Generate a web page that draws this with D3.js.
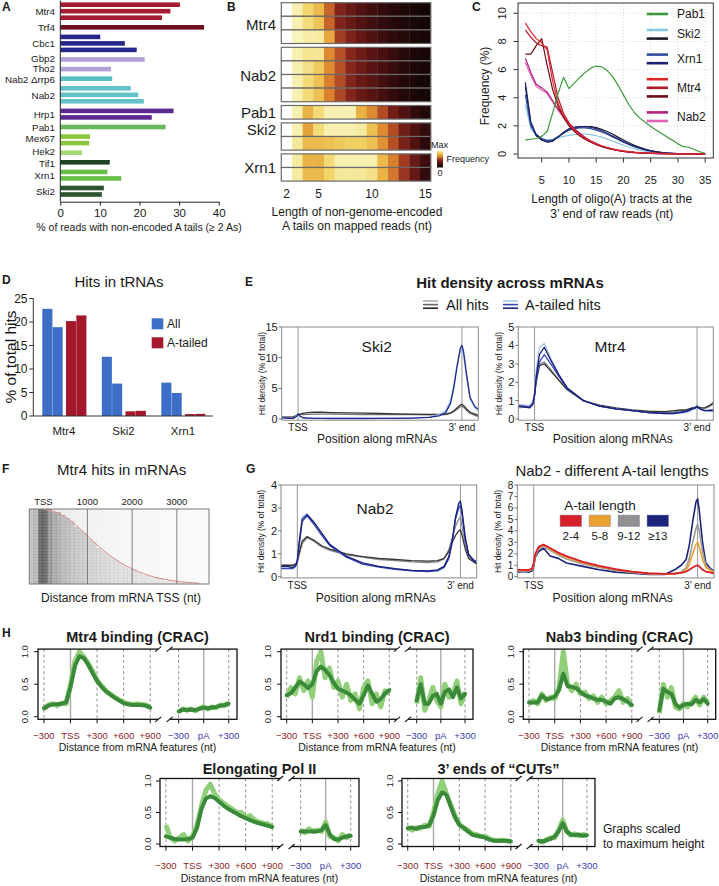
<!DOCTYPE html>
<html><head><meta charset="utf-8">
<script src="https://cdn.jsdelivr.net/npm/d3@7/dist/d3.min.js"></script>
<style>
html,body{margin:0;padding:0;background:#fff;}
svg{display:block;}
text{font-family:"Liberation Sans",Arial,Helvetica,sans-serif;fill:#1a1a1a;}
</style></head><body>
<svg id="fig" width="719" height="886" viewBox="0 0 719 886"></svg>
<script>
// ================= DATA =================
// Panel A
const aCategories = ["Mtr4","Trf4","Cbc1","Gbp2","Tho2","Nab2 \u0394rrp6","Nab2","Hrp1","Pab1","Mex67","Hek2","Tif1","Xrn1","Ski2"];
const aValues = [[30.2,27.8,25.7],[36.3],[10.1,16.3,19.3],[21.3],[12.8],[13.1],[17.8,19.7,21.1],[28.6,23.1],[26.6],[7.5,7.3],[5.5],[12.5],[11.9,15.4],[11.0,10.5]];
const aColors = ["#a51c30","#6d0f1c","#25288a","#b4a0d8","#b4a0d8","#58bcc4","#66c2ca","#5a2a90","#6ab85e","#8cc63c","#a6d677","#1f4423","#6abf4b","#2b5530"];
const aTicks = [0,10,20,30,40];

// Panel B (relative frequency, 1 = max)
const bLengths = [2,3,4,5,6,7,8,9,10,11,12,13,14,15];
const bTicks = [2,5,10,15];
const bGroups = ["Mtr4","Nab2","Pab1","Ski2","Xrn1"];
const bMtr4 = [[1,.88,.78,.7,.5,.34,.27,.21,.16,.12,.09,.06,.04,.02],[1,.88,.8,.73,.5,.34,.27,.21,.16,.12,.09,.06,.04,.02],[1,.9,.87,.86,.65,.42,.33,.26,.2,.15,.11,.08,.05,.03]];
const bNab2 = [[1,.88,.84,.84,.58,.46,.36,.29,.23,.18,.13,.09,.05,.03],[1,.88,.82,.75,.58,.46,.36,.29,.23,.18,.13,.09,.05,.03],[1,.88,.8,.72,.56,.45,.35,.28,.22,.17,.12,.08,.05,.03],[1,.88,.8,.72,.56,.44,.35,.28,.22,.17,.12,.08,.05,.03]];
const bPab1 = [[1,.88,.68,.8,.88,.88,.88,.68,.58,.45,.3,.2,.12,.08]];
const bSki2 = [[1,.88,.64,.8,.88,.88,.88,.86,.72,.58,.45,.3,.2,.12],[1,.85,.7,.7,.72,.74,.76,.76,.72,.6,.46,.32,.2,.1]];
const bXrn1 = [[1,.86,.68,.68,.8,.88,.88,.88,.88,.7,.56,.42,.28,.15],[1,.86,.7,.7,.78,.85,.85,.85,.82,.68,.54,.4,.26,.12]];

// Panel C (frequency %, oligo(A) length 2..35)
const cLengths = [2,3,4,5,6,7,8,9,10,11,12,13,14,15,16,17,18,19,20,21,22,23,24,25,26,27,28,29,30,31,32,33,34,35];
const cXTicks = [5,10,15,20,25,30,35];
const cYTicks = [0,2,4,6,8,10];
const cPab1 = [1.0,1.05,1.1,1.25,1.6,2.9,4.3,5.45,4.65,5.05,5.45,5.8,6.1,6.25,6.2,5.95,5.5,4.9,4.2,3.5,2.95,2.55,2.25,1.95,1.7,1.45,1.2,0.97,0.72,0.52,0.48,0.32,0.16,0.05];
const cSki2a = [3.5,1.8,1.3,1.1,1.0,1.05,1.15,1.25,1.32,1.38,1.42,1.42,1.38,1.3,1.2,1.06,0.92,0.77,0.62,0.48,0.37,0.28,0.2,0.14,0.1,0.07,0.05,0.03,0.02,0.01,0.01,0,0,0];
const cSki2b = [4.8,2.1,1.3,1.0,0.88,0.95,1.2,1.48,1.7,1.85,1.92,1.95,1.95,1.88,1.75,1.6,1.42,1.2,1.0,0.8,0.62,0.47,0.35,0.25,0.17,0.12,0.08,0.05,0.03,0.02,0.01,0.01,0,0];
const cXrn1a = [4.2,2.0,1.4,1.1,0.95,1.0,1.25,1.5,1.7,1.8,1.85,1.85,1.8,1.7,1.56,1.4,1.22,1.03,0.84,0.67,0.52,0.4,0.29,0.21,0.15,0.1,0.07,0.05,0.03,0.02,0.01,0.01,0,0];
const cXrn1b = [5.1,2.3,1.35,1.0,0.85,0.9,1.2,1.55,1.8,1.92,1.95,1.95,1.9,1.8,1.65,1.48,1.28,1.08,0.88,0.7,0.54,0.41,0.3,0.22,0.15,0.1,0.07,0.05,0.03,0.02,0.01,0.01,0,0];
const cMtr4a = [9.3,8.7,8.2,7.9,7.4,5.2,3.6,2.7,2.1,1.7,1.35,1.1,0.9,0.72,0.58,0.46,0.36,0.28,0.22,0.17,0.13,0.1,0.08,0.06,0.05,0.04,0.03,0.02,0.02,0.01,0.01,0.01,0.01,0];
const cMtr4b = [8.8,8.3,7.9,7.7,7.6,5.8,4.0,2.9,2.2,1.75,1.4,1.12,0.9,0.72,0.57,0.45,0.35,0.27,0.21,0.16,0.12,0.09,0.07,0.05,0.04,0.03,0.02,0.02,0.01,0.01,0.01,0,0,0];
const cMtr4c = [7.1,7.1,7.7,8.2,6.3,4.6,3.4,2.6,2.0,1.6,1.28,1.03,0.83,0.66,0.52,0.41,0.32,0.25,0.19,0.15,0.11,0.08,0.06,0.05,0.04,0.03,0.02,0.02,0.01,0.01,0.01,0,0,0];
const cNab2a = [6.8,5.8,4.95,4.7,4.4,3.8,3.2,2.7,2.2,1.8,1.48,1.18,0.94,0.74,0.57,0.44,0.33,0.25,0.19,0.14,0.1,0.08,0.06,0.04,0.03,0.02,0.02,0.01,0.01,0.01,0,0,0,0];
const cNab2b = [6.5,5.6,4.8,4.55,4.3,3.7,3.1,2.6,2.15,1.75,1.42,1.12,0.88,0.7,0.55,0.42,0.32,0.24,0.18,0.13,0.1,0.07,0.05,0.04,0.03,0.02,0.02,0.01,0.01,0.01,0,0,0,0];
const cLegendLabels = ["Pab1","Ski2","Xrn1","Mtr4","Nab2"];

// Panel D
const dCategories = ["Mtr4","Ski2","Xrn1"];
const dAll = [[22.8,18.9],[12.6,6.9],[7.1,4.9]];
const dTailed = [[20.2,21.4],[1.0,1.1],[0.4,0.45]];
const dTicks = [0,5,10,15,20,25];

// Panels E and G: position along mRNA (TSS = 0, 3' end = 100)
const posE = [-10,-6,-3,-1,0,1,3,6,10,15,20,30,40,50,60,70,80,86,90,93,95,97,99,100,101,103,105,108,110];
const eSki2All1 = [0.3,0.3,0.35,0.5,0.7,0.8,0.9,1.05,1.1,1.1,1.05,1.0,0.95,0.9,0.85,0.8,0.75,0.75,0.8,1.0,1.3,1.8,2.3,2.4,2.2,1.6,1.1,0.8,0.6];
const eSki2All2 = [0.25,0.25,0.3,0.6,0.8,0.75,0.7,0.75,0.8,0.8,0.78,0.75,0.72,0.7,0.7,0.7,0.68,0.68,0.7,0.9,1.2,1.6,2.0,2.1,1.9,1.4,0.9,0.6,0.4];
const eSki2Tail1 = [0.2,0.1,0.1,0.4,0.8,0.5,0.2,0.15,0.1,0.1,0.08,0.08,0.08,0.1,0.1,0.15,0.25,0.5,1.0,2.5,5.0,8.5,11.5,12.0,11.0,7.0,3.5,2.0,1.6];
const eSki2Tail2 = [0.2,0.1,0.12,0.5,0.8,0.5,0.2,0.15,0.1,0.1,0.09,0.09,0.1,0.1,0.12,0.18,0.3,0.7,1.3,3.0,5.5,8.8,11.0,11.5,10.5,6.5,3.2,1.8,1.4];
const eMtr4All1 = [0.7,0.7,0.72,0.9,1.3,2.0,2.9,3.0,2.6,2.1,1.6,1.0,0.75,0.6,0.5,0.42,0.4,0.45,0.5,0.48,0.55,0.6,0.65,0.7,0.65,0.6,0.62,0.75,0.9];
const eMtr4All2 = [0.6,0.65,0.7,0.9,1.4,2.2,3.0,3.1,2.7,2.1,1.6,1.0,0.7,0.55,0.45,0.38,0.36,0.4,0.45,0.5,0.5,0.55,0.6,0.62,0.6,0.55,0.58,0.7,0.8];
const eMtr4Tail1 = [0.7,0.65,0.6,0.8,1.3,2.3,3.5,3.9,3.2,2.4,1.7,1.0,0.7,0.55,0.45,0.35,0.3,0.3,0.35,0.4,0.45,0.55,0.6,0.65,0.6,0.5,0.45,0.45,0.45];
const eMtr4Tail2 = [0.8,0.75,0.7,0.9,1.5,2.6,3.9,4.1,3.3,2.4,1.7,1.0,0.7,0.55,0.45,0.35,0.3,0.3,0.32,0.35,0.4,0.5,0.55,0.6,0.55,0.5,0.45,0.4,0.4];
const eMtr4Tail3 = [0.7,0.7,0.65,0.85,1.3,2.1,3.1,3.5,3.0,2.3,1.65,1.0,0.7,0.55,0.45,0.35,0.32,0.33,0.38,0.42,0.48,0.55,0.62,0.7,0.6,0.5,0.45,0.5,0.5];
const gNab2All1 = [0.5,0.5,0.5,0.55,0.7,1.0,1.55,1.75,1.6,1.35,1.2,1.0,0.88,0.8,0.75,0.7,0.68,0.7,0.8,1.1,1.5,1.8,2.0,2.05,1.8,1.2,0.8,0.65,0.55];
const gNab2All2 = [0.45,0.45,0.48,0.5,0.6,0.9,1.45,1.7,1.55,1.3,1.15,0.95,0.85,0.75,0.7,0.65,0.62,0.65,0.78,1.2,1.7,2.2,2.5,2.6,2.2,1.4,0.9,0.7,0.6];
const gNab2Tail1 = [0.45,0.45,0.4,0.5,0.7,1.4,2.5,2.7,2.4,1.9,1.4,0.9,0.6,0.45,0.35,0.28,0.25,0.3,0.45,0.9,1.6,2.6,3.2,3.3,2.9,1.7,1.0,0.7,0.6];
const gNab2Tail2 = [0.35,0.35,0.35,0.45,0.65,1.3,2.4,2.65,2.3,1.8,1.35,0.85,0.55,0.42,0.32,0.25,0.22,0.25,0.4,0.8,1.5,2.5,3.0,3.1,2.7,1.6,0.95,0.75,0.65];
const gNab2Tail3 = [0.4,0.4,0.42,0.5,0.7,1.5,2.6,2.75,2.35,1.85,1.38,0.88,0.58,0.44,0.34,0.27,0.24,0.28,0.42,0.85,1.55,2.55,3.1,3.2,2.8,1.65,0.98,0.72,0.62];
const gTailLabels = ["2-4","5-8","9-12","\u226513"];
const gTail2to4 = [0.6,0.6,0.6,0.7,1.2,2.0,2.6,2.8,2.5,2.1,1.8,1.3,0.95,0.65,0.45,0.3,0.25,0.28,0.33,0.45,0.6,0.8,0.95,1.0,0.9,0.6,0.45,0.35,0.3];
const gTail5to8 = [0.55,0.55,0.55,0.65,1.1,1.9,2.55,2.75,2.45,2.0,1.7,1.2,0.9,0.6,0.42,0.28,0.23,0.27,0.35,0.6,1.1,2.0,2.8,3.0,2.6,1.5,0.8,0.5,0.4];
const gTail9to12 = [0.5,0.5,0.5,0.6,1.0,1.8,2.4,2.6,2.3,1.9,1.55,1.1,0.8,0.55,0.38,0.25,0.22,0.27,0.4,0.8,1.6,3.0,4.2,4.6,4.0,2.2,1.0,0.6,0.45];
const gTail13 = [0.4,0.45,0.4,0.5,0.9,1.7,2.2,2.5,1.8,1.6,1.2,0.9,0.6,0.4,0.3,0.2,0.2,0.6,1.0,1.5,2.8,4.8,6.5,6.8,5.8,3.0,1.2,0.7,0.5];

// Panel F
const fTickValues = [0,1000,2000,3000];
const fTickLabels = ["TSS","1000","2000","3000"];
const fDensity = [0.3,0.35,0.75,0.75,0.5,0.42,0.38,0.34,0.31,0.29,0.27,0.25,0.23,0.22,0.21,0.2,0.19,0.18,0.17,0.17,0.16,0.16,0.15,0.15,0.14,0.14,0.13,0.13,0.13,0.12,0.12,0.12,0.11,0.11,0.11,0.1,0.1,0.1,0.1,0.1];
const fCurveNt = [0,250,500,750,1000,1250,1500,1750,2000,2250,2500,2750,3000,3250,3500];
const fCurveFrac = [0,0.03,0.1,0.22,0.36,0.5,0.62,0.72,0.8,0.86,0.91,0.94,0.965,0.98,0.99];

// Panel H (scaled to max; -300..+900 around TSS, -300..+300 around pA, 50 nt steps)
const hPosTSS = [-300,-250,-200,-150,-100,-50,0,50,100,150,200,250,300,350,400,450,500,550,600,650,700,750,800,850,900];
const hPosPA = [-300,-250,-200,-150,-100,-50,0,50,100,150,200,250,300];
const hTicksTSS = [-300,0,300,600,900];
const hLabelsTSS = ["\u2212300","TSS","+300","+600","+900"];
const hTicksPA = [-300,0,300];
const hLabelsPA = ["\u2212300","pA","+300"];
const hMtr4Smooth = [.13,.17,.19,.19,.2,.22,.45,.78,.93,.9,.8,.67,.55,.46,.39,.34,.29,.25,.21,.19,.18,.18,.18,.17,.14];
const hMtr4Raw = [.12,.18,.2,.17,.21,.2,.5,.85,1.0,.92,.82,.7,.56,.48,.4,.35,.3,.26,.22,.2,.19,.2,.19,.18,.15];
const hMtr4SmoothPA = [.08,.11,.1,.11,.1,.12,.14,.13,.14,.15,.17,.18,.2];
const hMtr4RawPA = [.07,.12,.1,.12,.09,.13,.15,.12,.15,.14,.18,.17,.21];
const hNrd1Smooth = [.33,.36,.45,.54,.5,.44,.5,.7,.77,.72,.64,.52,.43,.4,.37,.33,.26,.2,.33,.48,.35,.23,.27,.36,.41];
const hNrd1Raw = [.3,.45,.35,.6,.4,.55,.3,.85,1.0,.6,.75,.45,.55,.3,.5,.25,.35,.12,.45,.55,.2,.35,.15,.4,.35];
const hNrd1SmoothPA = [.25,.5,.2,.2,.32,.35,.2,.38,.42,.3,.45,.28,.35];
const hNrd1RawPA = [.2,.6,.1,.25,.45,.25,.15,.5,.3,.35,.55,.2,.38];
const hNab3Smooth = [.22,.22,.22,.33,.27,.28,.31,.41,.66,.47,.46,.44,.38,.33,.31,.28,.26,.26,.23,.2,.28,.3,.27,.23,.18];
const hNab3Raw = [.2,.25,.2,.35,.25,.3,.28,.45,1.0,.5,.4,.5,.35,.38,.28,.32,.22,.3,.2,.25,.3,.4,.22,.28,.15];
const hNab3SmoothPA = [.1,.43,.38,.35,.2,.14,.18,.2,.19,.26,.22,.27,.2];
const hNab3RawPA = [.05,.5,.3,.45,.15,.12,.2,.15,.22,.3,.18,.3,.22];
const hPol2Smooth = [.12,.1,.08,.07,.07,.08,.1,.25,.55,.72,.76,.73,.67,.61,.56,.52,.48,.44,.41,.38,.35,.33,.31,.29,.27];
const hPol2Raw = [.3,.1,.05,.1,.15,.05,.12,.3,.6,.85,.95,.8,.7,.65,.6,.55,.5,.5,.42,.45,.38,.35,.33,.32,.28];
const hPol2SmoothPA = [.2,.2,.2,.2,.2,.22,.3,.15,.08,.07,.1,.12,.13];
const hPol2RawPA = [.22,.18,.24,.2,.22,.2,.35,.12,.1,.05,.15,.1,.15];
const hCutsSmooth = [.25,.26,.24,.27,.27,.3,.45,.7,.82,.78,.6,.42,.3,.26,.2,.15,.13,.12,.1,.07,.05,.05,.05,.05,.04];
const hCutsRaw = [.27,.22,.26,.25,.3,.28,.5,.8,1.0,.8,.62,.45,.32,.25,.22,.16,.15,.12,.12,.08,.06,.05,.06,.05,.04];
const hCutsSmoothPA = [.05,.04,.06,.08,.12,.2,.33,.2,.15,.14,.15,.13,.14];
const hCutsRawPA = [.05,.03,.07,.1,.1,.22,.38,.2,.14,.16,.13,.15,.14];

// ================= DRAWING =================
const svg = d3.select("#fig");
let clipN = 0;
function T(x,y,s,o={}){
  const t = svg.append("text").attr("x",x).attr("y",y).text(s).attr("font-size",o.size||11);
  if(o.anchor) t.attr("text-anchor",o.anchor);
  if(o.bold) t.attr("font-weight","bold");
  if(o.fill) t.style("fill",o.fill);
  if(o.rot!=null) t.attr("transform",`rotate(${o.rot},${x},${y})`);
  if(o.mid) t.attr("dominant-baseline","central");
  return t;
}
function L(x1,y1,x2,y2,stroke,w,dash){
  const l = svg.append("line").attr("x1",x1).attr("y1",y1).attr("x2",x2).attr("y2",y2).attr("stroke",stroke).attr("stroke-width",w||1);
  if(dash) l.attr("stroke-dasharray",dash);
  return l;
}
function clipRect(x,y,w,h){
  const id="clip"+(clipN++);
  svg.append("clipPath").attr("id",id).append("rect").attr("x",x).attr("y",y).attr("width",w).attr("height",h);
  return `url(#${id})`;
}

// Panel letters
[["A",2,11],["B",227,11],["C",472,11],["D",2,284],["E",245,286],["F",2,473],["G",246,473],["H",2,637]]
  .forEach(p=>T(p[1],p[2],p[0],{size:12,bold:true}));

// ---------- Panel A ----------
(function(){
  const xA = d3.scaleLinear().domain([0,40]).range([60.3,218.7]);
  const labelNudge = [0,0,0,-1.3,-0.4,1.2,0.4,0,0,-1.5,-0.8,0.8,0,0];
  let cy = 4.7;
  aValues.forEach((vals,gi)=>{
    const start = cy;
    vals.forEach((v,j)=>{
      svg.append("rect").attr("x",xA(0)).attr("y",cy-2.3).attr("width",xA(v)-xA(0)).attr("height",4.6).attr("fill",aColors[gi]);
      if(j<vals.length-1) cy += 6.5;
    });
    T(55,(start+cy)/2+labelNudge[gi],aCategories[gi],{size:9.8,anchor:"end",mid:true});
    cy += 9.6;
  });
  L(60.3,0.5,60.3,201.7,"#222",1);
  const ax = svg.append("g").attr("transform","translate(0,201.7)")
    .call(d3.axisBottom(xA).tickValues(aTicks).tickSize(4).tickSizeOuter(0));
  ax.selectAll("text").attr("font-size",11.5);
  ax.selectAll("path,line").attr("stroke","#222");
  T(139,231,"% of reads with non-encoded A tails (\u2265 2 As)",{size:10.5,anchor:"middle"});
})();

// ---------- Panel B ----------
(function(){
  const xB = d3.scaleBand().domain(bLengths).range([281.3,430.7]);
  const colorB = d3.scaleLinear().domain([0,0.1,0.18,0.28,0.38,0.48,0.58,0.68,0.78,0.88,1])
    .range(["#0e0404","#2a0a0a","#4a1010","#6a1a16","#8e2a1e","#c05a28","#de8a30","#e9b245","#f2d66a","#f8f0b0","#ffffff"]);
  const rows = [bMtr4,bNab2,bPab1,bSki2,bXrn1];
  const labelNudge = [1,1,0,-7,0];
  const rowH = 13.6, gap = 3.8;
  let yb = 2.7;
  rows.forEach((grp,gi)=>{
    const y0 = yb;
    grp.forEach(vals=>{
      vals.forEach((v,ci)=>{
        svg.append("rect").attr("x",xB(bLengths[ci])).attr("y",yb).attr("width",xB.bandwidth()+0.4).attr("height",rowH).attr("fill",colorB(v));
      });
      svg.append("rect").attr("x",281.3).attr("y",yb).attr("width",149.4).attr("height",rowH)
        .attr("fill","none").attr("stroke","#6a6a6a").attr("stroke-width",1.2);
      yb += rowH;
    });
    T(276,(y0+yb)/2+labelNudge[gi],bGroups[gi],{size:15,anchor:"end",mid:true});
    yb += gap;
  });
  bTicks.forEach(v=>T(xB(v)+xB.bandwidth()/2,197.5,String(v),{size:12,anchor:"middle"}));
  T(357,216,"Length of non-genome-encoded",{size:12,anchor:"middle"});
  T(357,230,"A tails on mapped reads (nt)",{size:12,anchor:"middle"});
  const grad = svg.append("defs").append("linearGradient").attr("id","heatGrad").attr("x1",0).attr("y1",0).attr("x2",0).attr("y2",1);
  [0.9,0.78,0.68,0.58,0.48,0.38,0.28,0.18,0.08,0].forEach((v,i,arr)=>
    grad.append("stop").attr("offset",i/(arr.length-1)).attr("stop-color",colorB(v)));
  svg.append("rect").attr("x",437).attr("y",150.5).attr("width",6).attr("height",17).attr("fill","url(#heatGrad)");
  T(431,148,"Max",{size:9});
  T(446.5,159,"Frequency",{size:9,mid:true});
  T(437.5,176,"0",{size:9});
})();

// ---------- Panel C ----------
(function(){
  const xC = d3.scaleLinear().domain([0,35]).range([514.45,705.2]);
  const yC = d3.scaleLinear().domain([0,10]).range([154,13.3]);
  const bx0=518, bx1=713.3, by0=3, by1=158;
  cXTicks.forEach(v=>L(xC(v),by0,xC(v),by1,"#cfcfcf",0.8,"1,2"));
  cYTicks.forEach(v=>L(bx0,yC(v),bx1,yC(v),"#cfcfcf",0.8,"1,2"));
  const series = [
    {v:cSki2a,c:"#88c8dc"},{v:cSki2b,c:"#1d1d2b"},{v:cXrn1a,c:"#2e4d9e"},{v:cXrn1b,c:"#1b2070"},
    {v:cNab2b,c:"#e062b0"},{v:cNab2a,c:"#b41f7e"},
    {v:cMtr4c,c:"#6a0e18"},{v:cMtr4b,c:"#b0182a"},{v:cMtr4a,c:"#e0242a"},
    {v:cPab1,c:"#3c9a3c"}];
  const ln = d3.line().x((d,i)=>xC(cLengths[i])).y(d=>yC(d));
  const cp = clipRect(bx0,by0,bx1-bx0,by1-by0);
  const g = svg.append("g").attr("clip-path",cp);
  series.forEach(s=>g.append("path").attr("d",ln(s.v)).attr("fill","none").attr("stroke",s.c).attr("stroke-width",1.2).attr("stroke-linejoin","round"));
  svg.append("rect").attr("x",bx0).attr("y",by0).attr("width",bx1-bx0).attr("height",by1-by0).attr("fill","none").attr("stroke","#333").attr("stroke-width",1);
  cXTicks.forEach(v=>{L(xC(v),by1,xC(v),by1+4.5,"#333",1);T(xC(v),184,String(v),{size:11,anchor:"middle"});});
  cYTicks.forEach(v=>{L(bx0-4.5,yC(v),bx0,yC(v),"#333",1);T(506,yC(v),String(v),{size:11,anchor:"middle",rot:-90});});
  T(489,86,"Frequency (%)",{size:12,anchor:"middle",rot:-90});
  T(611.7,203,"Length of oligo(A) tracts at the",{size:12,anchor:"middle"});
  T(611.7,218,"3\u2019 end of raw reads (nt)",{size:12,anchor:"middle"});
  const legend = [["#3c9a3c"],["#88c8dc","#1d1d2b"],["#2e4d9e","#1b2070"],["#e0242a","#b0182a","#6a0e18"],["#b41f7e","#e062b0"]];
  let ly = 14;
  legend.forEach((cols,gi)=>{
    const y0 = ly;
    cols.forEach((c,j)=>{L(646.7,ly,668,ly,c,2.6); if(j<cols.length-1) ly += 8.6;});
    T(677,(y0+ly)/2,cLegendLabels[gi],{size:12,mid:true});
    ly += 16;
  });
})();

// ---------- Panel D ----------
(function(){
  T(119,287,"Hits in tRNAs",{size:15,anchor:"middle"});
  const yD = d3.scaleLinear().domain([0,25]).range([416,298.5]);
  const xD = d3.scaleBand().domain(dCategories).range([34.75,213.25]);
  const offs = [-22.2,-11.9,1.5,11.8];
  dCategories.forEach((c,i)=>{
    const cx = xD(c)+xD.bandwidth()/2;
    const vals = [dAll[i][0],dAll[i][1],dTailed[i][0],dTailed[i][1]];
    vals.forEach((v,j)=>{
      svg.append("rect").attr("x",cx+offs[j]).attr("y",yD(v)).attr("width",10.1).attr("height",yD(0)-yD(v))
        .attr("fill",j<2?"#3d6fc9":"#a3182b");
    });
    T(cx-0.5,434.5,c,{size:11.5,anchor:"middle"});
  });
  L(33.3,298.5,33.3,416,"#333",1);
  L(33.3,416,213,416,"#333",1);
  dTicks.forEach(v=>{L(29.3,yD(v),33.3,yD(v),"#333",1);T(27.5,yD(v),String(v),{size:12,anchor:"end",mid:true});});
  T(15.5,357,"% of total hits",{size:15.5,anchor:"middle",rot:-90});
  svg.append("rect").attr("x",151.7).attr("y",318.3).attr("width",11.6).attr("height",11).attr("fill","#3d6fc9");
  svg.append("rect").attr("x",151.7).attr("y",337.3).attr("width",11.6).attr("height",11).attr("fill","#a3182b");
  T(167,324,"All",{size:12,mid:true});
  T(167,343,"A-tailed",{size:12,mid:true});
})();

// ---------- Profile plots (E, G) ----------
function profile(o){
  const xs = d3.scaleLinear().domain([-10,110]).range([o.x0,o.x1]);
  const ys = d3.scaleLinear().domain([0,o.ymax]).range([o.yZero,o.yTop]);
  const yb = o.yZero+1.2;
  [0,100].forEach(v=>L(xs(v),o.yTop,xs(v),yb,"#8a8a8a",0.9));
  const cp = clipRect(o.x0,o.yTop,o.x1-o.x0,yb-o.yTop);
  const g = svg.append("g").attr("clip-path",cp);
  const ln = d3.line().x((d,i)=>xs(posE[i])).y(d=>ys(d));
  o.series.forEach(s=>g.append("path").attr("d",ln(s.v)).attr("fill","none").attr("stroke",s.c).attr("stroke-width",s.w||1.3).attr("stroke-linejoin","round"));
  svg.append("rect").attr("x",o.x0).attr("y",o.yTop).attr("width",o.x1-o.x0).attr("height",yb-o.yTop).attr("fill","none").attr("stroke","#8a8a8a").attr("stroke-width",1);
  o.ticks.forEach(v=>{L(o.x0-3,ys(v),o.x0,ys(v),"#555",0.8);T(o.x0-4,ys(v),String(v),{size:o.tickSize||11,anchor:"end",mid:true});});
  T(o.x0-16.5,(o.yTop+yb)/2,"Hit density (% of total)",{size:8.5,anchor:"middle",rot:-90});
  T(xs(0),o.tssY,"TSS",{size:10,anchor:"middle"});
  T(xs(100),o.tssY,"3\u2019 end",{size:10,anchor:"middle"});
  T((o.x0+o.x1)/2-3,o.posY,"Position along mRNAs",{size:12,anchor:"middle"});
  if(o.label) T(o.lx,o.ly,o.label,{size:15.5,anchor:"middle",mid:true});
  return xs;
}

// ---------- Panel E ----------
T(510,288,"Hit density across mRNAs",{size:15,anchor:"middle",bold:true});
["#aaaaaa","#666666","#222222"].forEach((c,i)=>L(423,301+i*3.6,438,301+i*3.6,c,1.6));
["#a8c4ec","#3848b8","#1a1f78"].forEach((c,i)=>L(503,301+i*3.6,518,301+i*3.6,c,1.6));
T(446,310,"All hits",{size:14.5});
T(525,310,"A-tailed hits",{size:14.5});
profile({x0:281.7,x1:478.3,yTop:327,yZero:419,ymax:15,ticks:[0,5,10,15],tssY:430.5,posY:442.5,
  label:"Ski2",lx:376.7,ly:346.7,
  series:[{v:eSki2All2,c:"#777777"},{v:eSki2All1,c:"#333333"},{v:eSki2Tail2,c:"#9fbfe8"},{v:eSki2Tail1,c:"#1f2a8a"}]});
profile({x0:518.3,x1:713.3,yTop:327,yZero:419,ymax:5,ticks:[0,1,2,3,4,5],tssY:430.5,posY:442.5,
  label:"Mtr4",lx:610,ly:346.7,
  series:[{v:eMtr4All2,c:"#8a8a8a"},{v:eMtr4All1,c:"#333333"},{v:eMtr4Tail2,c:"#a8c4ec"},{v:eMtr4Tail3,c:"#3848b8"},{v:eMtr4Tail1,c:"#1a1f78"}]});

// ---------- Panel F ----------
(function(){
  T(121.7,475,"Mtr4 hits in mRNAs",{size:15,anchor:"middle"});
  const xF = d3.scaleLinear().domain([-300,3720]).range([29.3,209]);
  const fTop = 509, fBot = 584, nRows = 25, rh = (fBot-fTop)/nRows;
  const lenOf = d3.scaleLinear().domain(fCurveFrac).range(fCurveNt);
  const cp = clipRect(29.3,fTop,179.7,fBot-fTop);
  const g = svg.append("g").attr("clip-path",cp);
  for(let r=0;r<nRows;r++){
    const len = lenOf((r+0.5)/nRows);
    fDensity.forEach((dv,i)=>{
      const a = -300+100*i;
      const inside = (a+50) < len;
      g.append("rect").attr("x",xF(a)).attr("y",fTop+r*rh).attr("width",xF(a+100)-xF(a)+0.3).attr("height",rh+0.2)
        .attr("fill","#000").attr("fill-opacity",dv*(inside?0.72:0.2));
    });
  }
  fTickValues.slice(1).forEach(v=>L(xF(v),fTop,xF(v),fBot,"#666",0.8));
  const curve = d3.line().x((d,i)=>xF(d)).y((d,i)=>fTop+fCurveFrac[i]*(fBot-fTop));
  g.append("path").attr("d",curve(fCurveNt)).attr("fill","none").attr("stroke","#d98a8a").attr("stroke-width",1);
  svg.append("rect").attr("x",29.3).attr("y",fTop).attr("width",179.7).attr("height",fBot-fTop).attr("fill","none").attr("stroke","#777");
  fTickValues.forEach((v,i)=>T(xF(v)+(i===0?0.7:0),505,fTickLabels[i],{size:9.5,anchor:"middle"}));
  T(121,602,"Distance from mRNA TSS (nt)",{size:12,anchor:"middle"});
})();

// ---------- Panel G ----------
profile({x0:281,x1:476.7,yTop:485,yZero:576.7,ymax:4,ticks:[0,1,2,3,4],tssY:589,posY:602,
  label:"Nab2",lx:375,ly:508,
  series:[{v:gNab2All2,c:"#8a8a8a"},{v:gNab2All1,c:"#333333"},{v:gNab2Tail3,c:"#a8c4ec"},{v:gNab2Tail2,c:"#3848b8"},{v:gNab2Tail1,c:"#1a1f78"}]});
T(612,476,"Nab2 - different A-tail lengths",{size:15,anchor:"middle"});
profile({x0:517.3,x1:714,yTop:485,yZero:576.7,ymax:8,ticks:[0,1,2,3,4,5,6,7,8],tickSize:10,tssY:589,posY:602,
  series:[{v:gTail13,c:"#1a237a",w:1.6},{v:gTail9to12,c:"#9a9a9a",w:1.6},{v:gTail5to8,c:"#e8a030",w:1.6},{v:gTail2to4,c:"#d8202a",w:1.8}]});
(function(){
  const cols = ["#d8202a","#e8a030","#909090","#1a237a"];
  T(600,509.5,"A-tail length",{size:13.5,anchor:"middle"});
  cols.forEach((c,i)=>{
    const x = 560+i*29;
    svg.append("rect").attr("x",x).attr("y",515).attr("width",21.7).attr("height",11.7).attr("fill",c).attr("stroke","#9aa0c0").attr("stroke-width",0.5);
    T(x+10.85,540,gTailLabels[i],{size:11.5,anchor:"middle"});
  });
})();

// ---------- Panel H ----------
function hPlot(o){
  const f = o.w/192, Lx = o.L;
  const xl = d3.scaleLinear().domain([-300,900]).range([Lx+5.7*f,Lx+108.3*f]);
  const xr = d3.scaleLinear().domain([-300,300]).range([Lx+135.7*f,Lx+184*f]);
  const y = d3.scaleLinear().domain([0,1]).range([o.yZero,o.yOne]);
  const top = y(1.04), bot = y(-0.04);
  [-300,300,600,900].forEach(v=>L(xl(v),top,xl(v),bot,"#777",0.8,"3,2.5"));
  [-300,300].forEach(v=>L(xr(v),top,xr(v),bot,"#777",0.8,"3,2.5"));
  L(xl(0),top,xl(0),bot,"#a8a8a8",1.4);
  L(xr(0),top,xr(0),bot,"#a8a8a8",1.4);
  const cp = clipRect(Lx,top,o.w,bot-top);
  const g = svg.append("g").attr("clip-path",cp);
  const lnL = d3.line().x((d,i)=>xl(hPosTSS[i])).y(d=>y(d));
  const lnR = d3.line().x((d,i)=>xr(hPosPA[i])).y(d=>y(d));
  g.append("path").attr("d",lnL(o.rawL)).attr("fill","none").attr("stroke","#92cf7a").attr("stroke-width",5).attr("stroke-linejoin","round");
  g.append("path").attr("d",lnR(o.rawR)).attr("fill","none").attr("stroke","#92cf7a").attr("stroke-width",5).attr("stroke-linejoin","round");
  g.append("path").attr("d",lnL(o.sL)).attr("fill","none").attr("stroke","#3a8a3a").attr("stroke-width",4).attr("stroke-linejoin","round").attr("stroke-linecap","round");
  g.append("path").attr("d",lnR(o.sR)).attr("fill","none").attr("stroke","#3a8a3a").attr("stroke-width",4).attr("stroke-linejoin","round").attr("stroke-linecap","round");
  svg.append("rect").attr("x",Lx).attr("y",top).attr("width",o.w).attr("height",bot-top).attr("fill","none").attr("stroke","#111").attr("stroke-width",1.3);
  const b1 = Lx+116*f, b2 = Lx+127*f;
  [top,bot].forEach(yy=>{
    svg.append("rect").attr("x",b1).attr("y",yy-2).attr("width",b2-b1).attr("height",4).attr("fill","#fff");
    [b1,b2].forEach(bx=>L(bx-3,yy+2.5,bx+3,yy-2.5,"#111",1.1));
  });
  hTicksTSS.forEach((v,i)=>{L(xl(v),bot,xl(v),bot+4,"#111",1);T(xl(v),o.tickY,hLabelsTSS[i],{size:9.5,anchor:"middle",fill:"#8b1e1e"});});
  hTicksPA.forEach((v,i)=>{L(xr(v),bot,xr(v),bot+4,"#111",1);T(xr(v),o.tickY,hLabelsPA[i],{size:9.5,anchor:"middle",fill:"#3b3bb0"});});
  [0,0.5,1].forEach(v=>{L(Lx-4,y(v),Lx,y(v),"#111",1);T(Lx-9.5,y(v),v.toFixed(1),{size:9.5,anchor:"middle",rot:-90});});
  T(Lx+o.w/2,o.axisY,"Distance from mRNA features (nt)",{size:10.5,anchor:"middle"});
  T(Lx+o.w/2,o.titleY,o.title,{size:14.5,anchor:"middle",bold:true});
}
const hRow1 = {yOne:651.7,yZero:716.7,tickY:739,axisY:751,titleY:642};
const hRow2 = {yOne:781,yZero:844,tickY:868.5,axisY:882,titleY:774};
hPlot(Object.assign({L:38,w:199,title:"Mtr4 binding (CRAC)",sL:hMtr4Smooth,rawL:hMtr4Raw,sR:hMtr4SmoothPA,rawR:hMtr4RawPA},hRow1));
hPlot(Object.assign({L:281,w:192,title:"Nrd1 binding (CRAC)",sL:hNrd1Smooth,rawL:hNrd1Raw,sR:hNrd1SmoothPA,rawR:hNrd1RawPA},hRow1));
hPlot(Object.assign({L:523.3,w:192.4,title:"Nab3 binding (CRAC)",sL:hNab3Smooth,rawL:hNab3Raw,sR:hNab3SmoothPA,rawR:hNab3RawPA},hRow1));
hPlot(Object.assign({L:160,w:199,title:"Elongating Pol II",sL:hPol2Smooth,rawL:hPol2Raw,sR:hPol2SmoothPA,rawR:hPol2RawPA},hRow2));
hPlot(Object.assign({L:402,w:193,title:"3\u2019 ends of \u201cCUTs\u201d",sL:hCutsSmooth,rawL:hCutsRaw,sR:hCutsSmoothPA,rawR:hCutsRawPA},hRow2));
T(603,833,"Graphs scaled",{size:12});
T(603,848,"to maximum height",{size:12});
</script>
</body></html>
